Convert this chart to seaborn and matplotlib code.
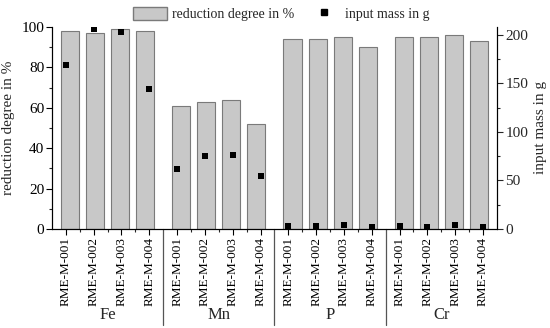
import pandas as pd
import numpy as np
import seaborn as sns
import matplotlib.pyplot as plt
from matplotlib.lines import Line2D
from matplotlib.patches import Patch
from matplotlib.ticker import MultipleLocator, FixedLocator

elements = ["Fe", "Mn", "P", "Cr"]
samples = ["RME-M-001", "RME-M-002", "RME-M-003", "RME-M-004"]
reduction = [98, 97, 99, 98,
             61, 63, 64, 52,
             94, 94, 95, 90,
             95, 95, 96, 93]
mass = [169, 206, 203, 144,
        62, 75, 76, 55,
        3, 3, 4, 2,
        3, 2, 4, 1.5]

rows = []
for i, el in enumerate(elements):
    for j, s in enumerate(samples):
        idx = i * 4 + j
        rows.append({"pos": idx,
                     # bars sit a bit closer together inside each group than the ticks
                     "barpos": i * 4 + 1.5 + (j - 1.5) * 0.9,
                     "element": el, "sample": s,
                     "reduction": reduction[idx], "mass": mass[idx]})
df = pd.DataFrame(rows)

sns.set_style("ticks")
plt.rcParams["font.family"] = ["Liberation Serif", "DejaVu Serif"]
plt.rcParams["font.size"] = 10

fig = plt.figure(figsize=(5.5, 3.28), dpi=100)
ax = fig.add_axes([0.0945, 0.302, 0.809, 0.616])

sns.barplot(data=df, x="barpos", y="reduction", ax=ax, native_scale=True,
            color="#c8c8c8", edgecolor="#7a7a7a", linewidth=0.8,
            width=0.65 / 0.9, saturation=1)
ax.set_xlim(-0.5, 15.5)
ax.set_ylim(0, 100)
ax.yaxis.set_major_locator(MultipleLocator(20))
ax.yaxis.set_minor_locator(MultipleLocator(10))
ax.set_ylabel("reduction degree in %", fontsize=11, labelpad=5)
ax.set_xlabel("")
ax.xaxis.set_major_locator(FixedLocator(df["pos"].tolist()))
ax.set_xticklabels(df["sample"], rotation=90, fontsize=9.5)
ax.xaxis.set_minor_locator(FixedLocator([k + 0.5 for k in range(15) if k % 4 != 3]))
ax.tick_params(axis="both", direction="out", length=4, width=0.8, colors="black", labelsize=11)
ax.tick_params(axis="y", pad=1.5)
ax.tick_params(axis="x", labelsize=9.5, pad=2)
ax.tick_params(axis="both", which="minor", length=2.5, width=0.8)
ax.spines["top"].set_visible(False)
ax.spines["right"].set_visible(True)

ax2 = ax.twinx()
sns.scatterplot(data=df, x="pos", y="mass", ax=ax2, marker="s", color="black",
                s=24, edgecolor="black", linewidth=0, zorder=5)
ax2.set_ylim(0, 208)
ax2.set_xlim(-0.5, 15.5)
ax2.yaxis.set_major_locator(MultipleLocator(50))
ax2.yaxis.set_minor_locator(MultipleLocator(25))
ax2.set_ylabel("input mass in g", fontsize=11, labelpad=4)
ax2.tick_params(axis="y", direction="out", length=4, width=0.8, labelsize=11, pad=2)
ax2.tick_params(axis="y", which="minor", length=2.5, width=0.8)
ax2.spines["top"].set_visible(False)

for sp in list(ax.spines.values()) + list(ax2.spines.values()):
    sp.set_linewidth(0.8)
    sp.set_color("black")

trans = ax.get_xaxis_transform()
for k in range(1, len(elements)):
    x = k * 4 - 0.5
    ax.plot([x, x], [0, -0.475], color="#555555", lw=0.9, transform=trans, clip_on=False)
for i, el in enumerate(elements):
    ax.text(i * 4 + 1.5, -0.425, el, transform=trans, ha="center", va="center", fontsize=12)

handles = [Patch(facecolor="#c8c8c8", edgecolor="#7a7a7a", label="reduction degree in %"),
           Line2D([], [], marker="s", color="black", lw=0, markersize=4.5, label="input mass in g")]
fig.legend(handles=handles, loc="center", bbox_to_anchor=(281.5 / 550, 1 - 14 / 328),
           bbox_transform=fig.transFigure, ncol=2, frameon=False, fontsize=10,
           handlelength=2.45, handleheight=1.15, columnspacing=0.95, handletextpad=0.3,
           borderpad=0)

fig.savefig("out.png", dpi=100)
